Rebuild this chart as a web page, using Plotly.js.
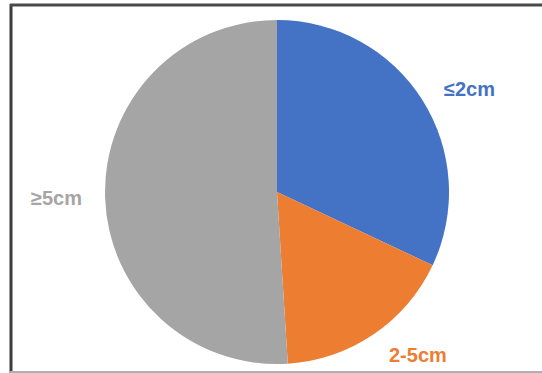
<!DOCTYPE html>
<html>
<head>
<meta charset="utf-8">
<script src="https://cdn.plot.ly/plotly-3.0.1.min.js"></script>
<style>html,body{margin:0;padding:0;background:#fff;}#chart{width:542px;height:373px;}</style>
</head>
<body>
<div id="chart"></div>
<script>
const labels = ["≤2cm", "2-5cm", "≥5cm"];
const values = [32, 17, 51];
const colors = ["#4472C4", "#ED7D31", "#A5A5A5"];

const W = 542, H = 373;
const px = x => x / W;
const py = y => 1 - y / H;

const labelPos = [[469, 89], [418, 355], [56, 198]];

const annotations = labels.map((t, i) => ({
  text: t, xref: "paper", yref: "paper",
  x: px(labelPos[i][0]), y: py(labelPos[i][1]),
  xanchor: "center", yanchor: "middle", showarrow: false,
  font: {family: "Liberation Sans, Arial, sans-serif", size: 20, color: colors[i], weight: "bold"}
}));

const shapes = [
  {type: "line", xref: "paper", yref: "paper", x0: px(11), x1: px(11), y0: py(4), y1: py(373), line: {color: "#3c3c3c", width: 3}},
  {type: "line", xref: "paper", yref: "paper", x0: px(10), x1: px(542), y0: py(5), y1: py(5), line: {color: "#4a4a4a", width: 3}},
  {type: "line", xref: "paper", yref: "paper", x0: px(10), x1: px(542), y0: py(372), y1: py(372), line: {color: "#b0b0b0", width: 2}}
];

Plotly.newPlot("chart", [{
  type: "pie", labels: labels, values: values, sort: false,
  direction: "clockwise", rotation: 0,
  marker: {colors: colors, line: {width: 0}},
  textinfo: "none", hoverinfo: "label+percent",
  domain: {x: [px(105), px(449)], y: [py(364), py(20)]}
}], {
  width: W, height: H, margin: {l: 0, r: 0, t: 0, b: 0},
  showlegend: false, paper_bgcolor: "#fff",
  annotations: annotations, shapes: shapes
}, {displayModeBar: false, staticPlot: true});
</script>
</body>
</html>
